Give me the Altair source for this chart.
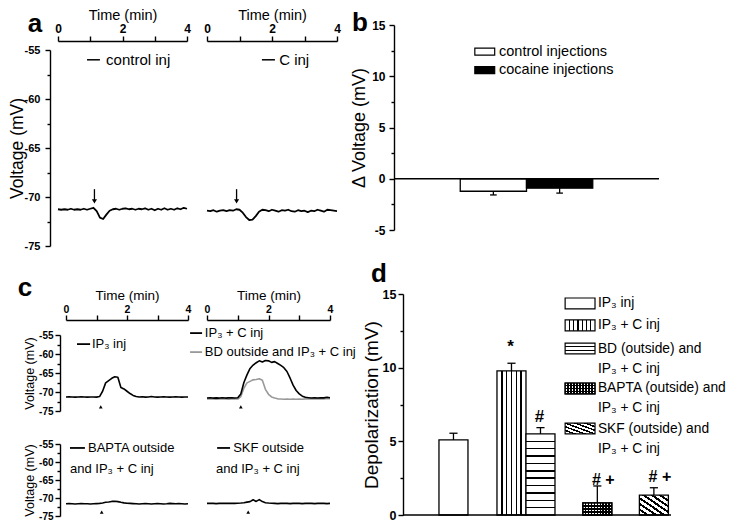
import altair as alt
import pandas as pd

FONT = "Liberation Sans"

# ------------------------------------------------------------------ data
TIME = [0.0, 0.1, 0.2, 0.3, 0.4, 0.5, 0.6, 0.7, 0.8, 0.9, 1.0,
        1.1, 1.2, 1.3, 1.4, 1.5, 1.6, 1.7, 1.8, 1.9, 2.0,
        2.1, 2.2, 2.3, 2.4, 2.5, 2.6, 2.7, 2.8, 2.9, 3.0,
        3.1, 3.2, 3.3, 3.4, 3.5, 3.6, 3.7, 3.8, 3.9, 4.0]

# panel a traces (mV)
A_NAMES = ["control inj", "C inj"]
A_CONTROL = [-71.25, -71.30, -71.25, -71.30, -71.20, -71.30, -71.25, -71.30, -71.20, -71.30, -71.20,
             -71.10, -71.45, -72.10, -72.25, -71.80, -71.40, -71.25, -71.20, -71.30, -71.20,
             -71.15, -71.25, -71.20, -71.30, -71.20, -71.25, -71.15, -71.30, -71.20, -71.35,
             -71.20, -71.30, -71.15, -71.30, -71.20, -71.30, -71.15, -71.25, -71.10, -71.20]
A_COCAINE = [-71.40, -71.45, -71.35, -71.50, -71.40, -71.35, -71.45, -71.35, -71.40, -71.25, -71.30,
             -71.60, -72.05, -72.35, -72.30, -71.95, -71.50, -71.30, -71.35, -71.45, -71.30,
             -71.40, -71.50, -71.35, -71.40, -71.30, -71.45, -71.50, -71.35, -71.45, -71.40,
             -71.55, -71.40, -71.45, -71.30, -71.40, -71.50, -71.30, -71.35, -71.40, -71.45]
A_ARROW_T = [1.13, 0.91]

# panel b
B_GROUPS = ["control injections", "cocaine injections"]
B_MEAN = [-1.22, -0.92]
B_SEM = [0.36, 0.48]

# panel c traces (mV)
C_NAMES = ["IP₃ inj", "IP₃ + C inj", "BD outside and IP₃ + C inj",
           "BAPTA outside and IP₃ + C inj", "SKF outside and IP₃ + C inj"]
C_IP3 = [-71.30, -71.25, -71.30, -71.35, -71.30, -71.25, -71.30, -71.35, -71.30, -71.30, -71.35,
         -71.20, -69.80, -67.60, -67.00, -66.40, -66.00, -66.10, -68.80, -69.20, -69.80,
         -70.40, -70.90, -71.20, -71.30, -71.25, -71.35, -71.30, -71.20, -71.30, -71.35,
         -71.30, -71.25, -71.30, -71.35, -71.30, -71.25, -71.30, -71.35, -71.30, -71.30]
C_IP3_C = [-71.60, -71.50, -71.60, -71.55, -71.60, -71.50, -71.60, -71.55, -71.50, -71.60, -71.50,
           -70.50, -67.50, -65.50, -63.80, -62.90, -62.30, -61.80, -62.10, -61.70, -61.80,
           -62.20, -62.00, -62.50, -63.00, -63.60, -64.60, -66.30, -68.20, -69.60, -70.50,
           -71.10, -71.40, -71.50, -71.60, -71.50, -71.60, -71.50, -71.55, -71.40, -71.50]
C_BD = [-71.80, -71.85, -71.80, -71.90, -71.80, -71.85, -71.80, -71.90, -71.85, -71.80, -71.85,
        -71.20, -69.00, -67.60, -67.20, -66.80, -66.70, -66.50, -66.90, -69.30, -70.60,
        -71.30, -71.60, -71.80, -71.85, -71.90, -71.85, -71.90, -71.85, -71.90, -71.85,
        -71.90, -71.80, -71.85, -71.80, -71.85, -71.80, -71.75, -71.80, -71.70, -71.75]
C_BAPTA = [-71.60, -71.55, -71.60, -71.65, -71.60, -71.55, -71.60, -71.60, -71.65, -71.60, -71.55,
           -71.50, -71.40, -71.20, -71.10, -70.95, -70.90, -71.00, -71.20, -71.35, -71.45,
           -71.50, -71.55, -71.60, -71.65, -71.60, -71.55, -71.60, -71.65, -71.60, -71.55,
           -71.60, -71.65, -71.60, -71.50, -71.55, -71.60, -71.55, -71.60, -71.65, -71.60]
C_SKF = [-71.50, -71.45, -71.50, -71.55, -71.50, -71.45, -71.50, -71.50, -71.45, -71.50, -71.45,
         -71.40, -71.30, -71.15, -71.00, -70.50, -70.95, -70.45, -71.00, -71.30, -71.40,
         -71.45, -71.50, -71.55, -71.50, -71.45, -71.50, -71.55, -71.50, -71.45, -71.50,
         -71.55, -71.50, -71.45, -71.50, -71.55, -71.50, -71.45, -71.50, -71.55, -71.50]
C_ARROW_T = [1.14, 1.10, 1.17, 1.34]

# panel d
D_GROUPS = ["IP₃ inj", "IP₃ + C inj", "BD (outside) and IP₃ + C inj",
            "BAPTA (outside) and IP₃ + C inj", "SKF (outside) and IP₃ + C inj"]
D_MEAN = [5.10, 9.78, 5.50, 0.82, 1.35]
D_SEM = [0.45, 0.52, 0.43, 1.15, 0.50]
D_SIGNIF = ["", "*", "#", "# +", "# +"]

# ------------------------------------------------------------------ layout
OFF = 8
W, H = 721, 513


def P(v):
    return v - OFF


AX = dict(grid=False, domainColor="black", tickColor="black", labelColor="black",
          titleColor="black", domainWidth=1.4, tickWidth=1.4, labelFont=FONT, titleFont=FONT,
          labelFontWeight="bold", titleFontWeight="normal", labelOverlap=False,
          labelFlush=False, labelBound=False)
NUM = "(datum.value < 0 ? '-' : '') + abs(datum.value)"


def xscale(lo, hi, dom):
    return alt.Scale(domain=dom, range=[P(lo), P(hi)], nice=False, zero=False)


def yscale(bottom, top, dom):
    return alt.Scale(domain=dom, range=[P(bottom), P(top)], nice=False, zero=False)


def top_axis(y_img, title, title_size, label_size, title_pad):
    return alt.Axis(orient="top", offset=-P(y_img), values=[0, 1, 2, 3, 4], tickSize=5,
                    labelExpr="datum.value % 2 === 0 ? '' + datum.value : ''",
                    labelFontSize=label_size, labelPadding=1, title=title,
                    titleFontSize=title_size, titlePadding=title_pad, **AX)


def left_axis(x_img, values, label_size=0, tick=5, title="", title_size=14, title_pad=3,
              label_pad=3, title_right=0):
    kw = dict(AX)
    kw.update(orient="left", offset=-P(x_img), values=values, tickSize=tick, title=title)
    if label_size:
        kw.update(labelExpr=NUM, labelFontSize=label_size, labelPadding=label_pad)
    else:
        kw.update(labels=False, domain=False)
    if title:
        kw.update(titleFontSize=title_size, titlePadding=title_pad)
        if title_right:
            kw.update(titleX=title_right - x_img, titleBaseline="bottom")
    return alt.Axis(**kw)


def line(t, v, xs, ys, color="black", width=1.6, xaxis=None):
    df = pd.DataFrame({"t": t, "v": v})
    return alt.Chart(df).mark_line(color=color, strokeWidth=width, strokeJoin="round").encode(
        x=alt.X("t:Q", scale=xs, axis=xaxis), y=alt.Y("v:Q", scale=ys, axis=None))


def axis_only(ys, dom, axis):
    df = pd.DataFrame({"v": dom})
    return alt.Chart(df).mark_point(opacity=0).encode(y=alt.Y("v:Q", scale=ys, axis=axis))


def hrule(df, xs, ys, color="black", width=1.5):
    return alt.Chart(df).mark_rule(color=color, strokeWidth=width).encode(
        x=alt.X("x:Q", scale=xs, axis=None), x2="x2:Q", y=alt.Y("y:Q", scale=ys, axis=None))


def vrule(df, xs, ys, color="black", width=1.5):
    return alt.Chart(df).mark_rule(color=color, strokeWidth=width).encode(
        x=alt.X("x:Q", scale=xs, axis=None), y=alt.Y("y:Q", scale=ys, axis=None), y2="y2:Q")


def texts(df, xs, ys, size, align="left", weight="normal", dx=0, dy=0):
    return alt.Chart(df).mark_text(font=FONT, fontSize=size, fontWeight=weight, align=align,
                                   baseline="middle", dx=dx, dy=dy, color="black").encode(
        x=alt.X("x:Q", scale=xs, axis=None), y=alt.Y("y:Q", scale=ys, axis=None), text="s:N")


def rects(df, xs, ys, fill, stroke="black", width=1.3):
    return alt.Chart(df).mark_rect(fill=fill, stroke=stroke, strokeWidth=width).encode(
        x=alt.X("x:Q", scale=xs, axis=None), x2="x2:Q",
        y=alt.Y("y:Q", scale=ys, axis=None), y2="y2:Q")


def points(df, xs, ys, shape, size):
    return alt.Chart(df).mark_point(shape=shape, filled=True, size=size, color="black",
                                    opacity=1, strokeWidth=0).encode(
        x=alt.X("x:Q", scale=xs, axis=None), y=alt.Y("y:Q", scale=ys, axis=None))


def letter(ch, x_img, y_img):
    return alt.Chart(pd.DataFrame({"s": [ch]})).mark_text(
        font=FONT, fontSize=26, fontWeight="bold", align="center", baseline="middle",
        color="black").encode(x=alt.value(P(x_img)), y=alt.value(P(y_img)), text="s:N")


def stripes(n, w, vec, paper="white", ink="black"):
    x1, y1, x2, y2 = vec
    stops = [{"offset": 0.0, "color": paper}]
    for k in range(1, n):
        c = k / n
        a, b = round(c - w / 2, 4), round(c + w / 2, 4)
        stops += [{"offset": a, "color": paper}, {"offset": a, "color": ink},
                  {"offset": b, "color": ink}, {"offset": b, "color": paper}]
    stops.append({"offset": 1.0, "color": paper})
    return {"gradient": "linear", "x1": x1, "y1": y1, "x2": x2, "y2": y2, "stops": stops}


VERT = (0, 0, 1, 0)
HORZ = (0, 0, 0, 1)
DIAG = (0, 1, 1, 0)
CLEAR = "rgba(255,255,255,0)"

layers = []

# ------------------------------------------------------------------ panel a
A_XPIX = [(58, 187), (207, 337)]
A_YPIX = (246, 50)
A_LEG_LINE = [(0.90, 1.30), (1.69, 2.09)]
A_LEG_TEXT_T = [1.49, 2.22]
A_LEG_V = -56.0
A_ARROW = (-69.2, -70.45)

a_ys = yscale(*A_YPIX, [-75, -55])
a_xs = [xscale(lo, hi, [0, 4]) for lo, hi in A_XPIX]
for i, vals in enumerate([A_CONTROL, A_COCAINE]):
    xs = a_xs[i]
    layers.append(line(TIME, vals, xs, a_ys, width=1.8,
                       xaxis=top_axis(41, "Time (min)", 14.5, 12, 0)))
    layers.append(hrule(pd.DataFrame({"x": [A_LEG_LINE[i][0]], "x2": [A_LEG_LINE[i][1]],
                                      "y": [A_LEG_V]}), xs, a_ys, width=1.5))
    layers.append(texts(pd.DataFrame({"x": [A_LEG_TEXT_T[i]], "y": [A_LEG_V],
                                      "s": [A_NAMES[i]]}), xs, a_ys, 15))
    layers.append(vrule(pd.DataFrame({"x": [A_ARROW_T[i]], "y": [A_ARROW[0]],
                                      "y2": [A_ARROW[1]]}), xs, a_ys, width=1.3))
    layers.append(points(pd.DataFrame({"x": [A_ARROW_T[i]], "y": [A_ARROW[1]]}), xs, a_ys,
                         "triangle-down", 26))
layers.append(axis_only(a_ys, [-75, -55], left_axis(50, [-75, -70, -65, -60, -55], 11,
                                                    title="Voltage (mV)", title_size=17.5,
                                                    label_pad=5, title_right=26)))
layers.append(axis_only(a_ys, [-75, -55], left_axis(50, [-72.5, -67.5, -62.5, -57.5], tick=3)))

# ------------------------------------------------------------------ panel b
B_XPIX = (394, 659)
B_YPIX = (230, 25)
B_FILL = ["white", "black"]
B_LEG_X = (1.22, 1.52, 1.585)
B_LEG_Y = [12.4, 10.6]
B_LEG_HALF = 0.34

b_xs = xscale(*B_XPIX, [0, 4])
b_ys = yscale(*B_YPIX, [-5, 15])
b_df = pd.DataFrame({"g": B_GROUPS, "m": B_MEAN, "e": B_SEM})
b_df["x"] = [i + 1 for i in range(len(B_GROUPS))]
b_df["x2"] = b_df["x"] + 1
b_df["y"] = 0.0
b_df["y2"] = b_df["m"]
b_df["xc"] = b_df["x"] + 0.5
b_df["tip"] = b_df["m"] - b_df["e"]

layers.append(axis_only(b_ys, [-5, 15], left_axis(394, [-5, 0, 5, 10, 15], 12,
                                                  title="Δ Voltage (mV)", title_size=18,
                                                  label_pad=4)))
layers.append(axis_only(b_ys, [-5, 15], left_axis(394, [-2.5, 2.5, 7.5, 12.5], tick=3)))
for i in range(len(B_GROUPS)):
    layers.append(rects(b_df.iloc[[i]], b_xs, b_ys, B_FILL[i]))
err = pd.DataFrame({"x": b_df["xc"], "y": b_df["m"], "y2": b_df["tip"]})
layers.append(vrule(err, b_xs, b_ys, width=1.3))
caps = pd.DataFrame({"x": b_df["xc"] - 0.05, "x2": b_df["xc"] + 0.05, "y": b_df["tip"]})
layers.append(hrule(caps, b_xs, b_ys, width=1.3))
layers.append(hrule(pd.DataFrame({"x": [0], "x2": [4], "y": [0]}), b_xs, b_ys, width=1.6))
for i, g in enumerate(B_GROUPS):
    box = pd.DataFrame({"x": [B_LEG_X[0]], "x2": [B_LEG_X[1]],
                        "y": [B_LEG_Y[i] - B_LEG_HALF], "y2": [B_LEG_Y[i] + B_LEG_HALF]})
    layers.append(rects(box, b_xs, b_ys, B_FILL[i], width=1.2))
layers.append(texts(pd.DataFrame({"x": [B_LEG_X[2]] * 2, "y": B_LEG_Y, "s": B_GROUPS}),
                    b_xs, b_ys, 14.5))

# ------------------------------------------------------------------ panel c
C_XPIX = [(66, 188), (207, 330)]
C_YPIX = [(411, 335), (516, 444)]
C_ARROW_V = -73.9
C_ARROW_CELL = [(0, 0), (1, 0), (0, 1), (1, 1)]

c_xs = [xscale(lo, hi, [0, 4]) for lo, hi in C_XPIX]
c_ys = [yscale(b, t, [-75, -55]) for b, t in C_YPIX]
GRAY = "#999999"

layers.append(line(TIME, C_IP3, c_xs[0], c_ys[0],
                   xaxis=top_axis(320, "Time (min)", 13.5, 10.5, 2)))
layers.append(line(TIME, C_BD, c_xs[1], c_ys[0], color=GRAY))
layers.append(line(TIME, C_IP3_C, c_xs[1], c_ys[0],
                   xaxis=top_axis(320, "Time (min)", 13.5, 10.5, 2)))
layers.append(line(TIME, C_BAPTA, c_xs[0], c_ys[1]))
layers.append(line(TIME, C_SKF, c_xs[1], c_ys[1]))
for t, (ci, ri) in zip(C_ARROW_T, C_ARROW_CELL):
    layers.append(points(pd.DataFrame({"x": [t], "y": [C_ARROW_V]}), c_xs[ci], c_ys[ri],
                         "triangle-up", 14))
for r in range(2):
    layers.append(axis_only(c_ys[r], [-75, -55],
                            left_axis(60, [-75, -70, -65, -60, -55], 10,
                                      title="Voltage (mV)", title_size=12.5, title_pad=2,
                                      label_pad=2)))
    layers.append(axis_only(c_ys[r], [-75, -55],
                            left_axis(60, [-72.5, -67.5, -62.5, -57.5], tick=3)))

# legends of panel c: (cell, line x0, line x1, text x, y, colour)
C_LEG = [
    ((0, 0), 0.36, 0.79, 0.85, -57.4, "black"),
    ((1, 0), -0.55, -0.16, -0.07, -54.5, "black"),
    ((1, 0), -0.55, -0.16, -0.07, -59.5, GRAY),
    ((0, 1), 0.13, 0.62, 0.72, -56.1, "black"),
    ((1, 1), 0.33, 0.75, 0.85, -56.1, "black"),
]
C_LEG2 = [None, None, None, (0.13, -62.0), (0.29, -62.0)]
for k, ((ci, ri), x0, x1, tx, vy, col) in enumerate(C_LEG):
    xs, ys = c_xs[ci], c_ys[ri]
    layers.append(hrule(pd.DataFrame({"x": [x0], "x2": [x1], "y": [vy]}), xs, ys,
                        color=col, width=1.8))
    name = C_NAMES[k]
    if C_LEG2[k] is None:
        first, second = name, None
    else:
        head, tail = name.split(" and ", 1)
        first, second = head, "and " + tail
    layers.append(texts(pd.DataFrame({"x": [tx], "y": [vy], "s": [first]}), xs, ys, 13))
    if second:
        sx, sy = C_LEG2[k]
        layers.append(texts(pd.DataFrame({"x": [sx], "y": [sy], "s": [second]}), xs, ys, 13))

# ------------------------------------------------------------------ panel d
D_XPIX = (403, 671)
D_YPIX = (515, 294)
D_SLOT = [1.24, 3.24, 4.24, 6.2, 8.15]
D_ANNOT_Y = [0, 11.4, 6.62, 2.38, 2.61]
D_LEG_X = (5.59, 6.62, 6.72)
D_LEG_Y = [14.36, 12.87, 11.30, 8.59, 5.87]
D_LEG_HALF = 0.37

d_xs = xscale(*D_XPIX, [0, 9.24])
d_ys = yscale(*D_YPIX, [0, 15])
d_df = pd.DataFrame({"g": D_GROUPS, "m": D_MEAN, "e": D_SEM, "sig": D_SIGNIF})
d_df["x"] = D_SLOT
d_df["x2"] = d_df["x"] + 1
d_df["y"] = 0.0
d_df["y2"] = d_df["m"]
d_df["xc"] = d_df["x"] + 0.5
d_df["tip"] = d_df["m"] + d_df["e"]

BAR_FILL = ["white", stripes(6, 0.05, VERT), stripes(11, 0.018, HORZ),
            stripes(10, 0.045, VERT), stripes(7, 0.06, DIAG)]
BAR_OVER = [None, None, None, stripes(4, 0.1, HORZ, paper=CLEAR), None]
LEG_FILL = ["white", stripes(7, 0.045, VERT), stripes(3, 0.12, HORZ),
            stripes(10, 0.045, VERT), stripes(6, 0.07, DIAG)]
LEG_OVER = [None, None, None, stripes(4, 0.12, HORZ, paper=CLEAR), None]

layers.append(axis_only(d_ys, [0, 15], left_axis(403, [0, 5, 10, 15], 12.5,
                                                title="Depolarization (mV)", title_size=19,
                                                title_pad=1, label_pad=2)))
layers.append(axis_only(d_ys, [0, 15], left_axis(403, [2.5, 7.5, 12.5], tick=3)))
for i in range(len(D_GROUPS)):
    one = d_df.iloc[[i]]
    layers.append(rects(one, d_xs, d_ys, BAR_FILL[i]))
    if BAR_OVER[i]:
        layers.append(rects(one, d_xs, d_ys, BAR_OVER[i]))
err = pd.DataFrame({"x": d_df["xc"], "y": d_df["m"], "y2": d_df["tip"]})
layers.append(vrule(err, d_xs, d_ys, width=1.3))
caps = pd.DataFrame({"x": d_df["xc"] - 0.14, "x2": d_df["xc"] + 0.14, "y": d_df["tip"]})
layers.append(hrule(caps, d_xs, d_ys, width=1.3))
layers.append(hrule(pd.DataFrame({"x": [0], "x2": [9.24], "y": [0]}), d_xs, d_ys, width=1.6))

ann = pd.DataFrame({"x": d_df["xc"], "y": D_ANNOT_Y, "s": d_df["sig"]})
single = ann[ann["s"].str.len() == 1]
double = ann[ann["s"].str.len() > 1]
layers.append(texts(single, d_xs, d_ys, 17, align="center", weight="bold", dx=-1))
layers.append(texts(double, d_xs, d_ys, 16, align="center", weight="bold", dx=6))

for i in range(len(D_GROUPS)):
    box = pd.DataFrame({"x": [D_LEG_X[0]], "x2": [D_LEG_X[1]],
                        "y": [D_LEG_Y[i] - D_LEG_HALF], "y2": [D_LEG_Y[i] + D_LEG_HALF]})
    layers.append(rects(box, d_xs, d_ys, LEG_FILL[i], width=1.2))
    if LEG_OVER[i]:
        layers.append(rects(box, d_xs, d_ys, LEG_OVER[i], width=1.2))
first_lines, second_lines = [], []
for g in D_GROUPS:
    if " and " in g:
        head, tail = g.split(" and ", 1)
        first_lines.append(head + " and")
        second_lines.append(tail)
    else:
        first_lines.append(g)
        second_lines.append("")
layers.append(texts(pd.DataFrame({"x": [D_LEG_X[2]] * 5, "y": D_LEG_Y, "s": first_lines}),
                    d_xs, d_ys, 13.8))
sec = pd.DataFrame({"x": [D_LEG_X[2]] * 5, "y": D_LEG_Y, "s": second_lines})
layers.append(texts(sec[sec["s"] != ""], d_xs, d_ys, 13.8, dy=20))

# ------------------------------------------------------------------ panel letters
layers.append(letter("a", 35, 24))
layers.append(letter("b", 360, 23))
layers.append(letter("c", 25, 288))
layers.append(letter("d", 379, 274))

chart = alt.layer(*layers).resolve_scale(x="independent", y="independent").properties(
    width=W, height=H, padding=0, autosize=alt.AutoSizeParams(type="none")
).configure_view(strokeWidth=0)

chart.save("out.html", embed_options={"renderer": "svg", "actions": False})
